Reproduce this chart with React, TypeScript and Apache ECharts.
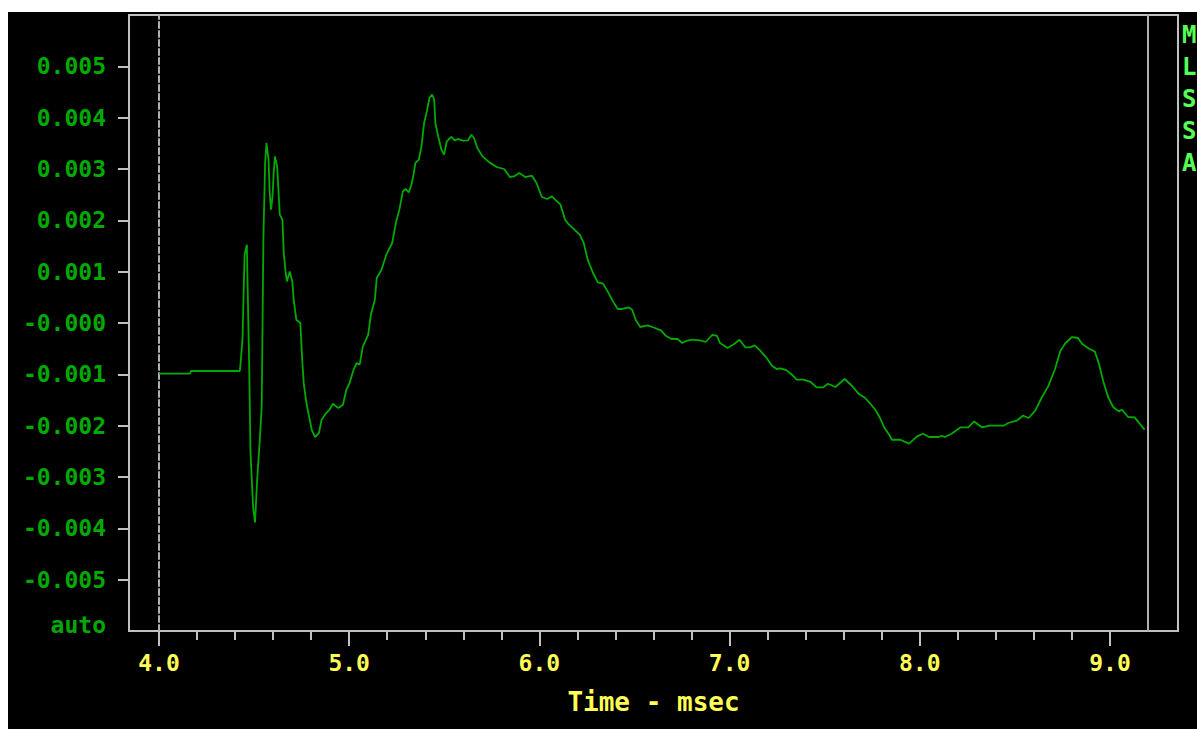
import React, { useEffect, useRef } from 'react';
import * as echarts from 'echarts';

// time axis (msec)
const timeMs = [
  4.0, 4.163, 4.168, 4.425, 4.429, 4.439, 4.450, 4.462, 4.465, 4.474,
  4.481, 4.495, 4.505, 4.516, 4.530, 4.540, 4.549, 4.558, 4.565, 4.576,
  4.582, 4.589, 4.597, 4.603, 4.610, 4.621, 4.628, 4.635, 4.649, 4.656,
  4.666, 4.673, 4.687, 4.701, 4.708, 4.722, 4.743, 4.754, 4.761, 4.775,
  4.789, 4.803, 4.820, 4.841, 4.855, 4.876, 4.897, 4.914, 4.943, 4.967,
  4.985, 5.002, 5.023, 5.040, 5.055, 5.072, 5.100, 5.114, 5.135, 5.145,
  5.170, 5.195, 5.226, 5.247, 5.264, 5.282, 5.296, 5.313, 5.327, 5.338,
  5.348, 5.366, 5.380, 5.394, 5.408, 5.422, 5.436, 5.447, 5.453, 5.468,
  5.485, 5.499, 5.513, 5.537, 5.555, 5.572, 5.597, 5.625, 5.642, 5.656,
  5.674, 5.701, 5.737, 5.775, 5.814, 5.845, 5.866, 5.894, 5.926, 5.961,
  5.985, 6.013, 6.041, 6.066, 6.087, 6.111, 6.135, 6.156, 6.184, 6.212,
  6.233, 6.254, 6.282, 6.307, 6.335, 6.359, 6.387, 6.412, 6.436, 6.471,
  6.488, 6.506, 6.530, 6.569, 6.608, 6.639, 6.664, 6.695, 6.727, 6.751,
  6.769, 6.803, 6.845, 6.874, 6.908, 6.933, 6.950, 6.989, 7.024, 7.052,
  7.083, 7.108, 7.132, 7.160, 7.195, 7.223, 7.247, 7.268, 7.300, 7.328,
  7.352, 7.388, 7.426, 7.458, 7.493, 7.517, 7.556, 7.605, 7.643, 7.678,
  7.713, 7.737, 7.766, 7.787, 7.815, 7.839, 7.853, 7.898, 7.944, 7.986,
  8.017, 8.049, 8.098, 8.115, 8.133, 8.167, 8.213, 8.255, 8.286, 8.328,
  8.367, 8.440, 8.465, 8.510, 8.542, 8.573, 8.608, 8.640, 8.675, 8.710,
  8.738, 8.766, 8.801, 8.832, 8.853, 8.892, 8.920, 8.941, 8.965, 8.990,
  9.017, 9.046, 9.063, 9.095, 9.130, 9.147, 9.182,
];

// signal, in thousandths
const signalX1000 = [
  -0.988, -0.988, -0.935, -0.935, -0.779, -0.312, 1.331, 1.525, 0.883, -0.773,
  -2.527, -3.598, -3.885, -3.053, -2.274, -1.625, 1.662, 3.117, 3.507, 3.181,
  2.538, 2.207, 2.466, 2.928, 3.246, 3.051, 2.597, 2.110, 2.012, 1.364,
  0.974, 0.810, 1.005, 0.810, 0.454, 0.064, 0.000, -0.779, -1.169, -1.559,
  -1.820, -2.079, -2.221, -2.143, -1.884, -1.767, -1.689, -1.572, -1.656, -1.592,
  -1.299, -1.169, -0.910, -0.779, -0.812, -0.456, -0.228, 0.162, 0.454, 0.877,
  1.038, 1.331, 1.559, 1.979, 2.207, 2.564, 2.611, 2.544, 2.694, 2.889,
  3.117, 3.181, 3.440, 3.896, 4.122, 4.383, 4.448, 4.350, 3.896, 3.635,
  3.376, 3.279, 3.538, 3.624, 3.557, 3.585, 3.552, 3.557, 3.668, 3.604,
  3.409, 3.246, 3.129, 3.039, 3.000, 2.844, 2.856, 2.922, 2.844, 2.870,
  2.727, 2.455, 2.416, 2.466, 2.388, 2.305, 2.012, 1.915, 1.818, 1.720,
  1.559, 1.233, 0.974, 0.791, 0.766, 0.616, 0.421, 0.273, 0.273, 0.304,
  0.259, 0.064, -0.078, -0.047, -0.097, -0.144, -0.247, -0.312, -0.312, -0.390,
  -0.355, -0.325, -0.339, -0.370, -0.234, -0.247, -0.390, -0.487, -0.409, -0.325,
  -0.475, -0.475, -0.436, -0.534, -0.682, -0.832, -0.896, -0.884, -0.923, -1.007,
  -1.105, -1.105, -1.149, -1.255, -1.255, -1.183, -1.247, -1.091, -1.222, -1.377,
  -1.461, -1.559, -1.689, -1.820, -2.046, -2.176, -2.274, -2.274, -2.351, -2.209,
  -2.157, -2.221, -2.221, -2.196, -2.221, -2.157, -2.034, -2.034, -1.917, -2.034,
  -2.001, -2.001, -1.948, -1.903, -1.806, -1.851, -1.703, -1.461, -1.235, -0.910,
  -0.553, -0.390, -0.273, -0.292, -0.403, -0.507, -0.553, -0.779, -1.138, -1.442,
  -1.636, -1.722, -1.689, -1.831, -1.839, -1.917, -2.079,
];

const xMajorTicks = [4, 5, 6, 7, 8, 9];
const xMinorTicks = [
  4.2, 4.4, 4.6, 4.8, 5.2, 5.4, 5.6, 5.8, 6.2, 6.4, 6.6, 6.8,
  7.2, 7.4, 7.6, 7.8, 8.2, 8.4, 8.6, 8.8,
];
const yTicks = [-0.005, -0.004, -0.003, -0.002, -0.001, 0, 0.001, 0.002, 0.003, 0.004, 0.005];
const yLabelValues = [-0.006, ...yTicks];
const sideLabels = ['M', 'L', 'S', 'S', 'A'];

const FONT = '"DejaVu Sans Mono", monospace';
const GREEN = '#00aa00';
const YELLOW = '#ffff55';
const GRAY = '#c0c0c0';

export default function App() {
  const ref = useRef<HTMLDivElement>(null);
  useEffect(() => {
    if (!ref.current) return;
    const chart = echarts.init(ref.current, null, { renderer: 'svg' });
    const data = timeMs.map((t, i) => [t, signalX1000[i] / 1000]);
    const yMin = -0.006;
    const yMax = 0.006;
    chart.setOption({
      animation: false,
      backgroundColor: '#000',
      grid: [
        {
          left: 121, right: 19, top: 3, height: 616,
          show: true, borderColor: GRAY, borderWidth: 2, backgroundColor: 'transparent',
        },
        { left: 151, right: 49, top: 3, height: 616 },
      ],
      xAxis: [
        { gridIndex: 0, type: 'value', min: 0, max: 1, show: false },
        {
          gridIndex: 1, type: 'value', position: 'bottom', min: 4, max: 9.2,
          axisLine: { show: false, onZero: false },
          splitLine: { show: false },
          axisTick: { show: true, customValues: xMajorTicks, length: 15, lineStyle: { color: GRAY, width: 2 } },
          axisLabel: {
            customValues: xMajorTicks,
            formatter: (v: number) => v.toFixed(1),
            color: YELLOW, fontFamily: FONT, fontWeight: 'bold', fontSize: 23, margin: 20,
          },
          name: 'Time - msec',
          nameLocation: 'middle',
          nameGap: 58,
          nameTextStyle: { color: YELLOW, fontFamily: FONT, fontWeight: 'bold', fontSize: 26 },
        },
        {
          gridIndex: 1, type: 'value', position: 'bottom', min: 4, max: 9.2,
          axisLine: { show: false, onZero: false },
          splitLine: { show: false },
          axisTick: { show: true, customValues: xMinorTicks, length: 9, lineStyle: { color: GRAY, width: 2 } },
          axisLabel: { show: false },
        },
      ],
      yAxis: [
        {
          gridIndex: 0, type: 'value', position: 'left', min: yMin, max: yMax,
          axisLine: { show: false, onZero: false },
          splitLine: { show: false },
          axisTick: { show: true, customValues: yTicks, length: 11, lineStyle: { color: GRAY, width: 2 } },
          axisLabel: {
            customValues: yLabelValues,
            formatter: (v: number) => {
              if (Math.abs(v + 0.006) < 1e-9) return '{auto|auto}';
              if (Math.abs(v) < 1e-9) return '-0.000';
              return v.toFixed(3);
            },
            color: GREEN, fontFamily: FONT, fontWeight: 'bold', fontSize: 23, margin: 23,
            rich: {
              auto: { color: GREEN, fontFamily: FONT, fontWeight: 'bold', fontSize: 23, padding: [0, 0, 12, 0] },
            },
          },
        },
        {
          gridIndex: 1, type: 'value', position: 'left', min: yMin, max: yMax,
          axisLine: { show: true, onZero: false, lineStyle: { color: '#b0b0b0', width: 2, type: [6, 3] } },
          axisTick: { show: false }, axisLabel: { show: false }, splitLine: { show: false },
        },
        {
          gridIndex: 1, type: 'value', position: 'right', min: yMin, max: yMax,
          axisLine: { show: true, onZero: false, lineStyle: { color: '#b0b0b0', width: 2 } },
          axisTick: { show: false }, axisLabel: { show: false }, splitLine: { show: false },
        },
      ],
      series: [
        {
          type: 'line',
          xAxisIndex: 1,
          yAxisIndex: 1,
          data,
          showSymbol: false,
          symbol: 'none',
          silent: true,
          lineStyle: { color: GREEN, width: 1.8 },
        },
      ],
      graphic: sideLabels.map((s, i) => ({
        type: 'text',
        x: 1174,
        y: 23 + i * 32,
        style: {
          text: s,
          fill: '#55ff55',
          font: `bold 24px ${FONT}`,
          align: 'left',
          verticalAlign: 'middle',
        },
      })),
    });
    return () => chart.dispose();
  }, []);
  return (
    <div style={{ position: 'absolute', left: 8, top: 12, width: 1189, height: 717, background: '#000' }}>
      <div ref={ref} style={{ width: 1189, height: 717 }} />
    </div>
  );
}
